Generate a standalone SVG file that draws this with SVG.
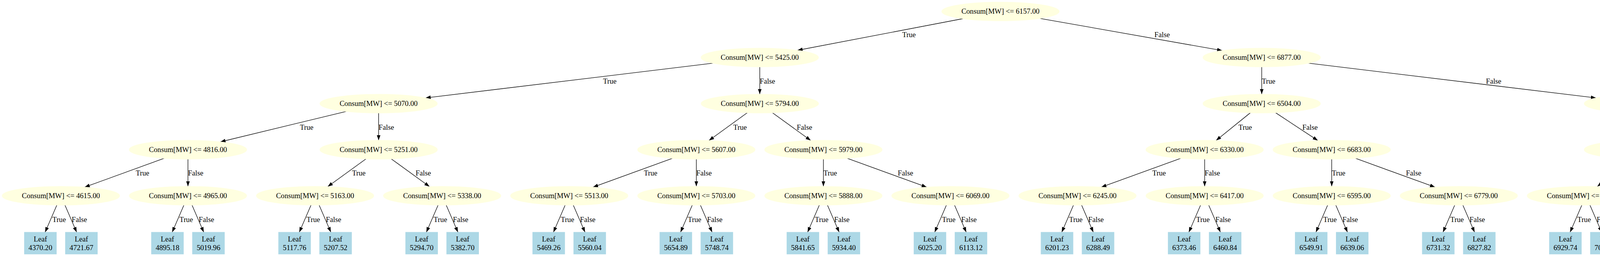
<svg xmlns="http://www.w3.org/2000/svg" width="5191" height="655" viewBox="0 0 5191 655">
<style>
text{font-family:"Liberation Serif","Times New Roman",serif;font-size:18.67px;fill:#000;text-anchor:middle}
.n ellipse{fill:#ffffe0;stroke:#ffffe0;stroke-width:1.33}
.l rect{fill:#add8e6;stroke:#add8e6;stroke-width:1.33}
#edges line{stroke:#000;stroke-width:1.33;marker-end:url(#ah)}
</style>
<defs>
<marker id="ah" markerUnits="userSpaceOnUse" viewBox="0 -5 14 10" markerWidth="14" markerHeight="10" refX="13.33" refY="0" orient="auto">
<path d="M0,-4.67 L13.33,0 L0,4.67 Z" fill="#000"/>
</marker>
</defs>
<rect width="5191" height="655" fill="#fff"/>
<g id="edges">
<line x1="2464.9" y1="47.73" x2="2041.3" y2="128.77"/>
<line x1="2662.1" y1="47.09" x2="3129.1" y2="129.41"/>
<line x1="1825.1" y1="161.69" x2="1089.2" y2="250.61"/>
<line x1="1945" y1="171.2" x2="1945" y2="241.1"/>
<line x1="3230" y1="171.2" x2="3230" y2="241.1"/>
<line x1="3349.9" y1="161.69" x2="4086.1" y2="250.61"/>
<line x1="886.4" y1="285.12" x2="564.1" y2="362.98"/>
<line x1="969.3" y1="289.1" x2="969.3" y2="359"/>
<line x1="1912.9" y1="288.54" x2="1814.9" y2="359.56"/>
<line x1="1977.5" y1="288.54" x2="2075.6" y2="359.56"/>
<line x1="3200.8" y1="288.64" x2="3113.1" y2="359.46"/>
<line x1="3265.5" y1="288.42" x2="3373.8" y2="359.68"/>
<line x1="4206" y1="289.1" x2="4206" y2="359"/>
<line x1="4290.8" y1="284.92" x2="4625.7" y2="363.18"/>
<line x1="420.6" y1="404.96" x2="216.5" y2="478.94"/>
<line x1="481.2" y1="407" x2="481.2" y2="476.9"/>
<line x1="936.95" y1="406.44" x2="838.95" y2="477.46"/>
<line x1="1001.6" y1="406.44" x2="1099.6" y2="477.46"/>
<line x1="1722" y1="404.96" x2="1517.8" y2="478.94"/>
<line x1="1782.6" y1="407" x2="1782.6" y2="476.9"/>
<line x1="2107.9" y1="407" x2="2107.9" y2="476.9"/>
<line x1="2168.5" y1="404.96" x2="2372.6" y2="478.94"/>
<line x1="3023.3" y1="404.96" x2="2819.1" y2="478.94"/>
<line x1="3083.9" y1="407" x2="3083.9" y2="476.9"/>
<line x1="3409.2" y1="407" x2="3409.2" y2="476.9"/>
<line x1="3469.8" y1="404.96" x2="3673.9" y2="478.94"/>
<line x1="4176.8" y1="406.54" x2="4089.1" y2="477.36"/>
<line x1="4241.5" y1="406.32" x2="4349.8" y2="477.58"/>
<line x1="4710.5" y1="407" x2="4710.5" y2="476.9"/>
<line x1="4771.1" y1="404.96" x2="4975.3" y2="478.94"/>
<line x1="145.53" y1="524.84" x2="115.46" y2="594.3"/><line x1="166.27" y1="524.84" x2="196.34" y2="594.3"/>
<line x1="470.83" y1="524.84" x2="440.76" y2="594.3"/><line x1="491.57" y1="524.84" x2="521.64" y2="594.3"/>
<line x1="796.23" y1="524.84" x2="766.16" y2="594.3"/><line x1="816.97" y1="524.84" x2="847.04" y2="594.3"/>
<line x1="1121.53" y1="524.84" x2="1091.46" y2="594.3"/><line x1="1142.27" y1="524.84" x2="1172.34" y2="594.3"/>
<line x1="1446.83" y1="524.84" x2="1416.76" y2="594.3"/><line x1="1467.57" y1="524.84" x2="1497.64" y2="594.3"/>
<line x1="1772.23" y1="524.84" x2="1742.16" y2="594.3"/><line x1="1792.97" y1="524.84" x2="1823.04" y2="594.3"/>
<line x1="2097.53" y1="524.84" x2="2067.46" y2="594.3"/><line x1="2118.27" y1="524.84" x2="2148.34" y2="594.3"/>
<line x1="2422.83" y1="524.84" x2="2392.76" y2="594.3"/><line x1="2443.57" y1="524.84" x2="2473.64" y2="594.3"/>
<line x1="2748.13" y1="524.84" x2="2718.06" y2="594.3"/><line x1="2768.87" y1="524.84" x2="2798.94" y2="594.3"/>
<line x1="3073.53" y1="524.84" x2="3043.46" y2="594.3"/><line x1="3094.27" y1="524.84" x2="3124.34" y2="594.3"/>
<line x1="3398.83" y1="524.84" x2="3368.76" y2="594.3"/><line x1="3419.57" y1="524.84" x2="3449.64" y2="594.3"/>
<line x1="3724.13" y1="524.84" x2="3694.06" y2="594.3"/><line x1="3744.87" y1="524.84" x2="3774.94" y2="594.3"/>
<line x1="4049.53" y1="524.84" x2="4019.46" y2="594.3"/><line x1="4070.27" y1="524.84" x2="4100.34" y2="594.3"/>
<line x1="4374.83" y1="524.84" x2="4344.76" y2="594.3"/><line x1="4395.57" y1="524.84" x2="4425.64" y2="594.3"/>
<line x1="4700.13" y1="524.84" x2="4670.06" y2="594.3"/><line x1="4720.87" y1="524.84" x2="4750.94" y2="594.3"/>
<line x1="5025.53" y1="524.84" x2="4995.46" y2="594.3"/><line x1="5046.27" y1="524.84" x2="5076.34" y2="594.3"/>
</g>
<g id="edge-labels">
<text x="2327" y="95.3">True</text><text x="2975" y="95.3">False</text>
<text x="1561" y="213.7">True</text><text x="1964.7" y="213.7">False</text>
<text x="3247.6" y="213.7">True</text><text x="3823.7" y="213.7">False</text>
<text x="785" y="331.7">True</text><text x="989" y="331.7">False</text>
<text x="1894.5" y="331.7">True</text><text x="2059.5" y="331.7">False</text>
<text x="3187.8" y="331.7">True</text><text x="3353.6" y="331.7">False</text>
<text x="4223.6" y="331.7">True</text><text x="4522" y="331.7">False</text>
<text x="364.8" y="449.3">True</text><text x="500.9" y="449.3">False</text>
<text x="918.6" y="449.3">True</text><text x="1083.6" y="449.3">False</text>
<text x="1665.6" y="449.3">True</text><text x="1802.3" y="449.3">False</text>
<text x="2125.5" y="449.3">True</text><text x="2318" y="449.3">False</text>
<text x="2967.3" y="449.3">True</text><text x="3103.6" y="449.3">False</text>
<text x="3426.8" y="449.3">True</text><text x="3618.9" y="449.3">False</text>
<text x="4163.8" y="449.3">True</text><text x="4329.6" y="449.3">False</text>
<text x="4728.1" y="449.3">True</text><text x="4920.7" y="449.3">False</text>
<text x="151.4" y="567.7">True</text><text x="203.2" y="567.7">False</text>
<text x="476.7" y="567.7">True</text><text x="528.5" y="567.7">False</text>
<text x="802.1" y="567.7">True</text><text x="853.9" y="567.7">False</text>
<text x="1127.4" y="567.7">True</text><text x="1179.2" y="567.7">False</text>
<text x="1452.7" y="567.7">True</text><text x="1504.5" y="567.7">False</text>
<text x="1778.1" y="567.7">True</text><text x="1829.9" y="567.7">False</text>
<text x="2103.4" y="567.7">True</text><text x="2155.2" y="567.7">False</text>
<text x="2428.7" y="567.7">True</text><text x="2480.5" y="567.7">False</text>
<text x="2754" y="567.7">True</text><text x="2805.8" y="567.7">False</text>
<text x="3079.4" y="567.7">True</text><text x="3131.2" y="567.7">False</text>
<text x="3404.7" y="567.7">True</text><text x="3456.5" y="567.7">False</text>
<text x="3730" y="567.7">True</text><text x="3781.8" y="567.7">False</text>
<text x="4055.4" y="567.7">True</text><text x="4107.2" y="567.7">False</text>
<text x="4380.7" y="567.7">True</text><text x="4432.5" y="567.7">False</text>
<text x="4706" y="567.7">True</text><text x="4757.8" y="567.7">False</text>
<text x="5031.4" y="567.7">True</text><text x="5083.2" y="567.7">False</text>
</g>
<g id="n0" class="n"><ellipse cx="2561.2" cy="29.3" rx="150.4" ry="24"/><text x="2561.2" y="35.3">Consum[MW] &lt;= 6157.00</text></g>
<g id="n1" class="n"><ellipse cx="1945" cy="147.2" rx="150.4" ry="24"/><text x="1945" y="153.2">Consum[MW] &lt;= 5425.00</text></g>
<g id="n2" class="n"><ellipse cx="3230" cy="147.2" rx="150.4" ry="24"/><text x="3230" y="153.2">Consum[MW] &lt;= 6877.00</text></g>
<g id="n3" class="n"><ellipse cx="969.3" cy="265.1" rx="150.4" ry="24"/><text x="969.3" y="271.1">Consum[MW] &lt;= 5070.00</text></g>
<g id="n4" class="n"><ellipse cx="1945.2" cy="265.1" rx="150.4" ry="24"/><text x="1945.2" y="271.1">Consum[MW] &lt;= 5794.00</text></g>
<g id="n5" class="n"><ellipse cx="3230" cy="265.1" rx="150.4" ry="24"/><text x="3230" y="271.1">Consum[MW] &lt;= 6504.00</text></g>
<g id="n6" class="n"><ellipse cx="4206" cy="265.1" rx="150.4" ry="24"/><text x="4206" y="271.1">Consum[MW] &lt;= 7369.00</text></g>
<g id="n7" class="n"><ellipse cx="481.2" cy="383" rx="150.4" ry="24"/><text x="481.2" y="389">Consum[MW] &lt;= 4816.00</text></g>
<g id="n8" class="n"><ellipse cx="969.3" cy="383" rx="150.4" ry="24"/><text x="969.3" y="389">Consum[MW] &lt;= 5251.00</text></g>
<g id="n9" class="n"><ellipse cx="1782.6" cy="383" rx="150.4" ry="24"/><text x="1782.6" y="389">Consum[MW] &lt;= 5607.00</text></g>
<g id="n10" class="n"><ellipse cx="2107.9" cy="383" rx="150.4" ry="24"/><text x="2107.9" y="389">Consum[MW] &lt;= 5979.00</text></g>
<g id="n11" class="n"><ellipse cx="3083.9" cy="383" rx="150.4" ry="24"/><text x="3083.9" y="389">Consum[MW] &lt;= 6330.00</text></g>
<g id="n12" class="n"><ellipse cx="3409.2" cy="383" rx="150.4" ry="24"/><text x="3409.2" y="389">Consum[MW] &lt;= 6683.00</text></g>
<g id="n13" class="n"><ellipse cx="4206" cy="383" rx="150.4" ry="24"/><text x="4206" y="389">Consum[MW] &lt;= 7096.00</text></g>
<g id="n14" class="n"><ellipse cx="4710.5" cy="383" rx="150.4" ry="24"/><text x="4710.5" y="389">Consum[MW] &lt;= 7755.00</text></g>
<g id="n15" class="n"><ellipse cx="155.9" cy="500.9" rx="150.4" ry="24"/><text x="155.9" y="506.9">Consum[MW] &lt;= 4615.00</text></g>
<g id="n16" class="n"><ellipse cx="481.2" cy="500.9" rx="150.4" ry="24"/><text x="481.2" y="506.9">Consum[MW] &lt;= 4965.00</text></g>
<g id="n17" class="n"><ellipse cx="806.6" cy="500.9" rx="150.4" ry="24"/><text x="806.6" y="506.9">Consum[MW] &lt;= 5163.00</text></g>
<g id="n18" class="n"><ellipse cx="1131.9" cy="500.9" rx="150.4" ry="24"/><text x="1131.9" y="506.9">Consum[MW] &lt;= 5338.00</text></g>
<g id="n19" class="n"><ellipse cx="1457.2" cy="500.9" rx="150.4" ry="24"/><text x="1457.2" y="506.9">Consum[MW] &lt;= 5513.00</text></g>
<g id="n20" class="n"><ellipse cx="1782.6" cy="500.9" rx="150.4" ry="24"/><text x="1782.6" y="506.9">Consum[MW] &lt;= 5703.00</text></g>
<g id="n21" class="n"><ellipse cx="2107.9" cy="500.9" rx="150.4" ry="24"/><text x="2107.9" y="506.9">Consum[MW] &lt;= 5888.00</text></g>
<g id="n22" class="n"><ellipse cx="2433.2" cy="500.9" rx="150.4" ry="24"/><text x="2433.2" y="506.9">Consum[MW] &lt;= 6069.00</text></g>
<g id="n23" class="n"><ellipse cx="2758.5" cy="500.9" rx="150.4" ry="24"/><text x="2758.5" y="506.9">Consum[MW] &lt;= 6245.00</text></g>
<g id="n24" class="n"><ellipse cx="3083.9" cy="500.9" rx="150.4" ry="24"/><text x="3083.9" y="506.9">Consum[MW] &lt;= 6417.00</text></g>
<g id="n25" class="n"><ellipse cx="3409.2" cy="500.9" rx="150.4" ry="24"/><text x="3409.2" y="506.9">Consum[MW] &lt;= 6595.00</text></g>
<g id="n26" class="n"><ellipse cx="3734.5" cy="500.9" rx="150.4" ry="24"/><text x="3734.5" y="506.9">Consum[MW] &lt;= 6779.00</text></g>
<g id="n27" class="n"><ellipse cx="4059.9" cy="500.9" rx="150.4" ry="24"/><text x="4059.9" y="506.9">Consum[MW] &lt;= 6982.00</text></g>
<g id="n28" class="n"><ellipse cx="4385.2" cy="500.9" rx="150.4" ry="24"/><text x="4385.2" y="506.9">Consum[MW] &lt;= 7219.00</text></g>
<g id="n29" class="n"><ellipse cx="4710.5" cy="500.9" rx="150.4" ry="24"/><text x="4710.5" y="506.9">Consum[MW] &lt;= 7547.00</text></g>
<g id="n30" class="n"><ellipse cx="5035.9" cy="500.9" rx="150.4" ry="24"/><text x="5035.9" y="506.9">Consum[MW] &lt;= 8085.50</text></g>
<g id="leaf0" class="l"><rect x="62.5" y="594.3" width="81.8" height="55.7"/><text x="103.4" y="618">Leaf</text><text x="103.4" y="640">4370.20</text></g>
<g id="leaf1" class="l"><rect x="167.5" y="594.3" width="81.8" height="55.7"/><text x="208.4" y="618">Leaf</text><text x="208.4" y="640">4721.67</text></g>
<g id="leaf2" class="l"><rect x="387.8" y="594.3" width="81.8" height="55.7"/><text x="428.7" y="618">Leaf</text><text x="428.7" y="640">4895.18</text></g>
<g id="leaf3" class="l"><rect x="492.8" y="594.3" width="81.8" height="55.7"/><text x="533.7" y="618">Leaf</text><text x="533.7" y="640">5019.96</text></g>
<g id="leaf4" class="l"><rect x="713.2" y="594.3" width="81.8" height="55.7"/><text x="754.1" y="618">Leaf</text><text x="754.1" y="640">5117.76</text></g>
<g id="leaf5" class="l"><rect x="818.2" y="594.3" width="81.8" height="55.7"/><text x="859.1" y="618">Leaf</text><text x="859.1" y="640">5207.52</text></g>
<g id="leaf6" class="l"><rect x="1038.5" y="594.3" width="81.8" height="55.7"/><text x="1079.4" y="618">Leaf</text><text x="1079.4" y="640">5294.70</text></g>
<g id="leaf7" class="l"><rect x="1143.5" y="594.3" width="81.8" height="55.7"/><text x="1184.4" y="618">Leaf</text><text x="1184.4" y="640">5382.70</text></g>
<g id="leaf8" class="l"><rect x="1363.8" y="594.3" width="81.8" height="55.7"/><text x="1404.7" y="618">Leaf</text><text x="1404.7" y="640">5469.26</text></g>
<g id="leaf9" class="l"><rect x="1468.8" y="594.3" width="81.8" height="55.7"/><text x="1509.7" y="618">Leaf</text><text x="1509.7" y="640">5560.04</text></g>
<g id="leaf10" class="l"><rect x="1689.2" y="594.3" width="81.8" height="55.7"/><text x="1730.1" y="618">Leaf</text><text x="1730.1" y="640">5654.89</text></g>
<g id="leaf11" class="l"><rect x="1794.2" y="594.3" width="81.8" height="55.7"/><text x="1835.1" y="618">Leaf</text><text x="1835.1" y="640">5748.74</text></g>
<g id="leaf12" class="l"><rect x="2014.5" y="594.3" width="81.8" height="55.7"/><text x="2055.4" y="618">Leaf</text><text x="2055.4" y="640">5841.65</text></g>
<g id="leaf13" class="l"><rect x="2119.5" y="594.3" width="81.8" height="55.7"/><text x="2160.4" y="618">Leaf</text><text x="2160.4" y="640">5934.40</text></g>
<g id="leaf14" class="l"><rect x="2339.8" y="594.3" width="81.8" height="55.7"/><text x="2380.7" y="618">Leaf</text><text x="2380.7" y="640">6025.20</text></g>
<g id="leaf15" class="l"><rect x="2444.8" y="594.3" width="81.8" height="55.7"/><text x="2485.7" y="618">Leaf</text><text x="2485.7" y="640">6113.12</text></g>
<g id="leaf16" class="l"><rect x="2665.1" y="594.3" width="81.8" height="55.7"/><text x="2706" y="618">Leaf</text><text x="2706" y="640">6201.23</text></g>
<g id="leaf17" class="l"><rect x="2770.1" y="594.3" width="81.8" height="55.7"/><text x="2811" y="618">Leaf</text><text x="2811" y="640">6288.49</text></g>
<g id="leaf18" class="l"><rect x="2990.5" y="594.3" width="81.8" height="55.7"/><text x="3031.4" y="618">Leaf</text><text x="3031.4" y="640">6373.46</text></g>
<g id="leaf19" class="l"><rect x="3095.5" y="594.3" width="81.8" height="55.7"/><text x="3136.4" y="618">Leaf</text><text x="3136.4" y="640">6460.84</text></g>
<g id="leaf20" class="l"><rect x="3315.8" y="594.3" width="81.8" height="55.7"/><text x="3356.7" y="618">Leaf</text><text x="3356.7" y="640">6549.91</text></g>
<g id="leaf21" class="l"><rect x="3420.8" y="594.3" width="81.8" height="55.7"/><text x="3461.7" y="618">Leaf</text><text x="3461.7" y="640">6639.06</text></g>
<g id="leaf22" class="l"><rect x="3641.1" y="594.3" width="81.8" height="55.7"/><text x="3682" y="618">Leaf</text><text x="3682" y="640">6731.32</text></g>
<g id="leaf23" class="l"><rect x="3746.1" y="594.3" width="81.8" height="55.7"/><text x="3787" y="618">Leaf</text><text x="3787" y="640">6827.82</text></g>
<g id="leaf24" class="l"><rect x="3966.5" y="594.3" width="81.8" height="55.7"/><text x="4007.4" y="618">Leaf</text><text x="4007.4" y="640">6929.74</text></g>
<g id="leaf25" class="l"><rect x="4071.5" y="594.3" width="81.8" height="55.7"/><text x="4112.4" y="618">Leaf</text><text x="4112.4" y="640">7038.88</text></g>
<g id="leaf26" class="l"><rect x="4291.8" y="594.3" width="81.8" height="55.7"/><text x="4332.7" y="618">Leaf</text><text x="4332.7" y="640">7157.05</text></g>
<g id="leaf27" class="l"><rect x="4396.8" y="594.3" width="81.8" height="55.7"/><text x="4437.7" y="618">Leaf</text><text x="4437.7" y="640">7292.10</text></g>
<g id="leaf28" class="l"><rect x="4617.1" y="594.3" width="81.8" height="55.7"/><text x="4658" y="618">Leaf</text><text x="4658" y="640">7456.02</text></g>
<g id="leaf29" class="l"><rect x="4722.1" y="594.3" width="81.8" height="55.7"/><text x="4763" y="618">Leaf</text><text x="4763" y="640">7646.84</text></g>
<g id="leaf30" class="l"><rect x="4942.5" y="594.3" width="81.8" height="55.7"/><text x="4983.4" y="618">Leaf</text><text x="4983.4" y="640">7903.17</text></g>
<g id="leaf31" class="l"><rect x="5047.5" y="594.3" width="81.8" height="55.7"/><text x="5088.4" y="618">Leaf</text><text x="5088.4" y="640">8403.10</text></g>
</svg>
